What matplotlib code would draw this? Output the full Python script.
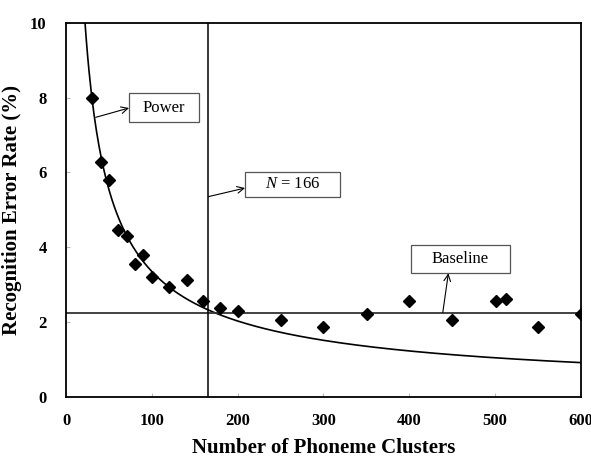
import numpy as np
import matplotlib.pyplot as plt
from matplotlib.patches import Rectangle

# measured data points
clusters = [30, 41, 50, 60, 71, 80, 90, 100, 120, 141, 160, 179, 200, 250,
            300, 351, 400, 450, 501, 513, 550, 600]
error_rate = [8.0, 6.28, 5.79, 4.47, 4.30, 3.54, 3.80, 3.19, 2.94, 3.12, 2.56,
              2.38, 2.30, 2.04, 1.87, 2.21, 2.55, 2.05, 2.55, 2.62, 1.87, 2.21]

baseline = 2.25
n_opt = 166
# power trend y = a * x^b
power_a = 94.8
power_b = -0.726

plt.rcParams["font.family"] = "Liberation Serif"
plt.rcParams["mathtext.fontset"] = "custom"
plt.rcParams["mathtext.it"] = "Liberation Serif:italic"
plt.rcParams["mathtext.rm"] = "Liberation Serif"

fig = plt.figure(figsize=(5.91, 4.59), dpi=100)
ax = fig.add_axes([0.1117, 0.1357, 0.8713, 0.8148])

xs = np.linspace(15, 600, 400)
ax.plot(xs, power_a * xs ** power_b, color="black", lw=1.2)
ax.axhline(baseline, color="#333333", lw=1.3)
ax.axvline(n_opt, color="black", lw=1.1)
ax.plot(clusters, error_rate, "D", color="black", ms=6.5, zorder=4)

ax.set_xlim(0, 600)
ax.set_ylim(0, 10)
ax.set_xticks(range(0, 601, 100))
ax.set_yticks(range(0, 11, 2))
ax.tick_params(direction="in", length=3, width=0.8, color="#bbbbbb", labelsize=12)
ax.tick_params(axis="x", pad=12)
ax.tick_params(axis="y", pad=14)
for lab in ax.get_xticklabels() + ax.get_yticklabels():
    lab.set_fontweight("bold")
for s in ax.spines.values():
    s.set_linewidth(1.3)

ax.set_xlabel("Number of Phoneme Clusters", fontsize=15, fontweight="bold", labelpad=6)
ax.set_ylabel("Recognition Error Rate (%)", fontsize=15, fontweight="bold", labelpad=6)

# callout boxes (x0, x1, y0, y1) and the point each arrow leaves from
callouts = [
    ("Power", (73.4, 155, 7.34, 8.12), (34.6, 7.47), (73.4, 7.72)),
    ("$N$ = 166", (208.6, 319.2, 5.34, 6.01), (n_opt, 5.35), (208.6, 5.58)),
    ("Baseline", (401.6, 517.3, 3.30, 4.06), (439, baseline), (445.5, 3.30)),
]
for label, (x0, x1, y0, y1), start, end in callouts:
    ax.add_patch(Rectangle((x0, y0), x1 - x0, y1 - y0, fc="white",
                           ec="#555555", lw=0.9, zorder=3))
    ax.text((x0 + x1) / 2, (y0 + y1) / 2, label, fontsize=12, ha="center",
            va="center", zorder=5)
    ax.annotate("", xy=end, xytext=start,
                arrowprops=dict(arrowstyle="->", color="black", lw=0.8,
                                shrinkA=0, shrinkB=0, mutation_scale=12))

fig.savefig("out.png", dpi=100)
